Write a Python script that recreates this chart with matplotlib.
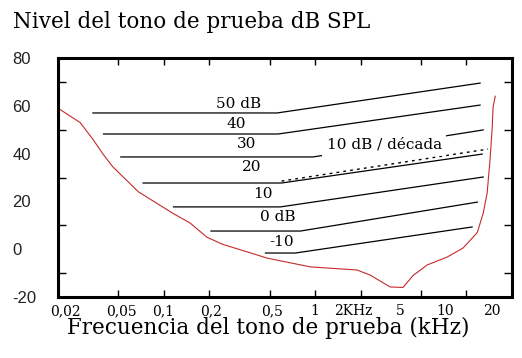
import matplotlib
matplotlib.use('Agg')
import matplotlib.pyplot as plt
from matplotlib.ticker import NullLocator
from matplotlib.transforms import ScaledTranslation

# umbral de audicion (curva roja), kHz / dB SPL
umbral_khz = [0.02, 0.028, 0.034, 0.040, 0.046, 0.068, 0.081, 0.115, 0.149, 0.193,
              0.246, 0.372, 0.48, 0.93, 1.89, 2.31, 3.13, 3.81, 4.44, 5.5,
              7.45, 9.5, 11.8, 12.9, 13.7, 14.3, 14.8, 15.0, 15.5]
umbral_db = [59, 53, 46, 39.5, 34.5, 24, 21, 15, 11, 5,
             2, -1.5, -3.7, -7.4, -8.7, -10.8, -15.8, -16, -11, -6.6,
             -3.3, 0.5, 7, 15, 23.5, 37, 51, 59.5, 64]

# curvas de nivel (tramo plano + tramo que sube)
niveles = ['50 dB', '40', '30', '20', '10', '0 dB', '-10']
f_inicio = [0.034, 0.040, 0.052, 0.073, 0.116, 0.205, 0.47]
f_codo = [0.56, 0.57, 0.97, 0.60, 0.59, 0.80, 0.74]
f_fin = [12.3, 12.3, 12.9, 12.7, 12.9, 11.8, 10.9]
db_plano = [57.0, 48.2, 38.6, 27.7, 17.7, 7.6, -1.6]
db_fin = [69.5, 60.3, 49.9, 39.8, 30.2, 19.7, 9.3]
etq_khz = [0.314, 0.30, 0.35, 0.383, 0.45, 0.57, 0.60]
etq_db = [60.7, 52.2, 44, 34.4, 23.1, 13.5, 3.0]

# recta de 10 dB / decada (punteada)
pend_khz = [0.60, 13.9]
pend_db = [28.5, 41.9]
pend_txt = '10 dB / década'
pend_txt_khz = 2.86
pend_txt_db = 44

xticks_khz = [0.02, 0.05, 0.1, 0.2, 0.5, 1, 2, 5, 10, 20]
xtick_txt = ['0,02', '0,05', '0,1', '0,2', '0,5', '1', '2KHz', '5', '10', '20']
ytick_txt = [-20, 0, 20, 40, 60, 80]
ytick_marca = [-10, 10, 30, 50, 70]

serif = 'DejaVu Serif'
rojo = '#c62a2a'

fig = plt.figure(figsize=(5.22, 3.58), dpi=100)
ax = fig.add_axes([58/522, 61/358, 454/522, 239/358])
ax.set_xscale('log')
ax.set_xlim(0.02, 20)
ax.set_ylim(-20, 80)

ax.plot(umbral_khz, umbral_db, color=rojo, lw=0.8)
for i in range(len(niveles)):
    ax.plot([f_inicio[i], f_codo[i], f_fin[i]],
            [db_plano[i], db_plano[i], db_fin[i]], color='black', lw=0.9)
    ax.text(etq_khz[i], etq_db[i], niveles[i], ha='center', va='center',
            fontsize=11, family=serif)
ax.plot(pend_khz, pend_db, color='black', lw=1, linestyle=(0, (2, 3)))
ax.text(pend_txt_khz, pend_txt_db, pend_txt, ha='center', va='center',
        fontsize=11, family=serif,
        bbox=dict(boxstyle='square,pad=0.3', fc='white', ec='none'))

# eje x
ax.set_xticks(xticks_khz)
ax.set_xticklabels(xtick_txt, family=serif, fontsize=10)
ax.xaxis.set_minor_locator(NullLocator())
ax.tick_params(axis='x', which='major', direction='in', top=True, bottom=True,
               length=5, width=1, pad=5)
desp = [7, 3, -1, 2, 3, 0, -7, -21, -21, -20]
for lbl, dx in zip(ax.get_xticklabels(), desp):
    lbl.set_transform(lbl.get_transform() + ScaledTranslation(dx/100, 0, fig.dpi_scale_trans))

# eje y: numeros sin marca, marcas entre numeros
ax.set_yticks(ytick_txt)
ax.set_yticks(ytick_marca, minor=True)
ax.set_yticklabels([str(v) for v in ytick_txt], family='Liberation Sans',
                   fontsize=12, color='#222222')
ax.tick_params(axis='y', which='major', length=0, pad=33)
ax.tick_params(axis='y', which='minor', direction='in', left=True, right=True,
               length=6, width=1)
for lbl in ax.get_yticklabels():
    lbl.set_horizontalalignment('left')

for s in ax.spines.values():
    s.set_linewidth(2.2)

ax.set_xlabel('Frecuencia del tono de prueba (kHz)', family=serif, fontsize=15.5)
ax.xaxis.set_label_coords(0.4626, -0.085)

fig.text(13/522, 1 - 28/358, 'Nivel del tono de prueba dB SPL', family=serif,
         fontsize=15.5, va='baseline', ha='left')

fig.savefig('out.png', dpi=100)
